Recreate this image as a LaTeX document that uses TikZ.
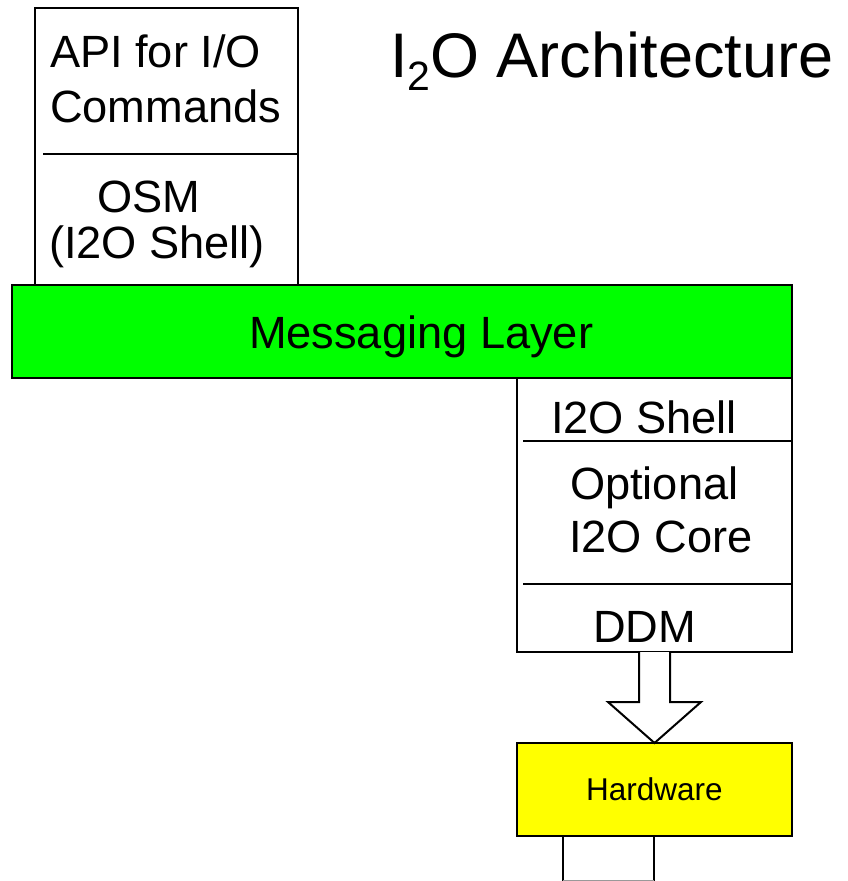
\documentclass[tikz,border=0pt]{standalone}
\usepackage{fontspec}
\setmainfont{Liberation Sans}
\usetikzlibrary{calc}
\definecolor{layergreen}{RGB}{0,255,0}
\definecolor{hwyellow}{RGB}{255,255,0}
\begin{document}
\begin{tikzpicture}[x=1pt,y=-1pt,
  box/.style={draw=black, line width=2pt, fill=white, rectangle,
    inner sep=0pt, outer sep=0pt, anchor=north west},
  lbl/.style={anchor=base west, inner sep=0pt, outer sep=0pt,
    font=\fontsize{45.2}{45.2}\selectfont},
  rule/.style={draw=black, line width=2.5pt}]
  % canvas
  \fill[white] (0,0) rectangle (848,881);
  \useasboundingbox (0,0) rectangle (848,881);

  % title
  \node[anchor=base west, inner sep=0pt, font=\fontsize{63}{63}\selectfont]
    (title) at (390,77) {I\raisebox{-13pt}{\fontsize{41}{41}\selectfont 2}O Architecture};

  % host side stack
  \node[box, minimum width=263pt, minimum height=277pt] (api) at (35,8) {};
  \draw[rule] (43,154) -- (298,154);
  \node[lbl] (apit1) at (50,67) {API for I/O};
  \node[lbl] (apit2) at (50,122) {Commands};
  \node[lbl] (osm1) at (97,212) {OSM};
  \node[lbl] (osm2) at (49,258) {(I2O Shell)};

  % IOP side stack
  \node[box, minimum width=275pt, minimum height=274pt] (iop) at (517,378) {};
  \draw[rule] (523,441) -- (792,441);
  \draw[rule] (523,584) -- (792,584);
  \node[lbl] (shell) at (551,433) {I2O Shell};
  \node[lbl] (core1) at (570,499) {Optional};
  \node[lbl] (core2) at (569,552) {I2O Core};
  \node[lbl] (ddm) at (593,642) {DDM};

  % messaging layer
  \node[box, fill=layergreen, minimum width=780pt, minimum height=93pt] (msg) at (12,285) {};
  \node[lbl] (msgt) at (249,348) {Messaging Layer};

  % hardware
  \node[box, fill=hwyellow, minimum width=275pt, minimum height=93pt] (hw) at (517,743) {};
  \node[inner sep=0pt, font=\fontsize{31.5}{31.5}\selectfont] (hwt) at (hw.center) {Hardware};

  % block arrow from DDM down to the hardware
  \draw[line width=2pt, fill=white, line join=miter]
    (639,652) -- (639,702) -- (608,702) -- (hw.north) -- (701,702)
    -- (670,702) -- (670,652);

  % connector stub below the hardware
  \draw[line width=2pt] (563,881) -- (563,836) -- (654,836) -- (654,881);
  \draw[line width=1pt, draw=black!40] (563,880.5) -- (654,880.5);
\end{tikzpicture}
\end{document}
